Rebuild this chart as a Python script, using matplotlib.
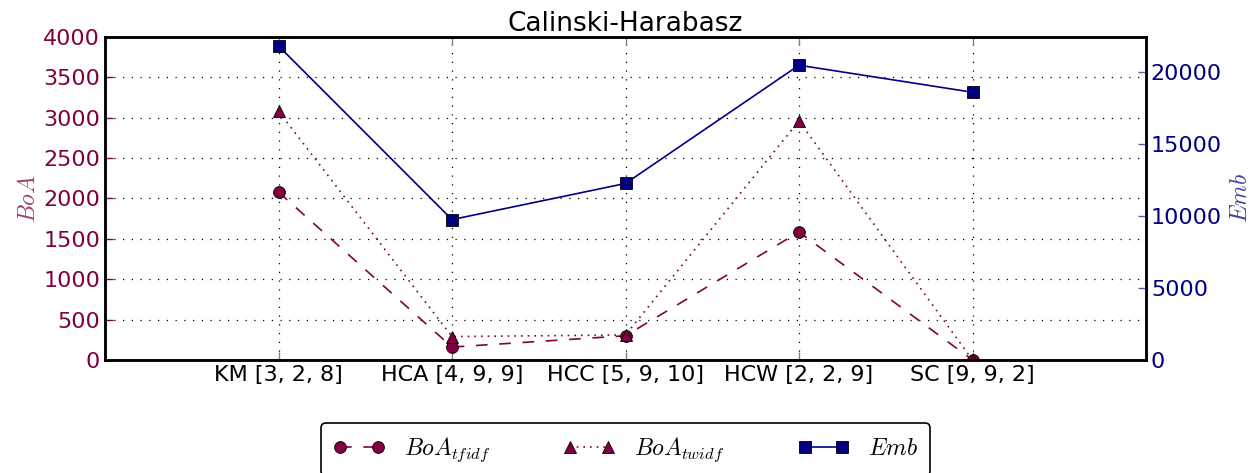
"""
Calinski-Harabasz comparison: BoA variants (left axis) against Emb (right axis).
"""
import numpy as np
import matplotlib
matplotlib.use('Agg')
import matplotlib.pyplot as plt

plt.rcParams['mathtext.fontset'] = 'cm'
plt.rcParams['font.family'] = ['DejaVu Sans']

methods = ['KM [3, 2, 8]', 'HCA [4, 9, 9]', 'HCC [5, 9, 10]', 'HCW [2, 2, 9]', 'SC [9, 9, 2]']
boa_tfidf = [2080, 160, 300, 1585, 0]
boa_twidf = [3080, 290, 310, 2960, 0]
emb = [21830, 9760, 12270, 20490, 18610]

BOA_COLOR = '#800040'
EMB_COLOR = '#000080'

fig = plt.figure(figsize=(12.6, 4.73), dpi=100)
ax = fig.add_axes([105 / 1260, 113 / 473, 1041 / 1260, 323 / 473])
ax2 = ax.twinx()

x = np.arange(1, len(methods) + 1)

l1, = ax.plot(x, boa_tfidf, color=BOA_COLOR, linestyle=(0, (7, 7)), linewidth=1.2,
              marker='o', markersize=8.5, markeredgecolor='black', markeredgewidth=0.6,
              label=r'$BoA_{tfidf}$')
l2, = ax.plot(x, boa_twidf, color=BOA_COLOR, linestyle=(0, (1, 3)), linewidth=1.2,
              marker='^', markersize=8.5, markeredgecolor='black', markeredgewidth=0.6,
              label=r'$BoA_{twidf}$')
l3, = ax2.plot(x, emb, color=EMB_COLOR, linestyle='-', linewidth=1.2,
               marker='s', markersize=8.5, markeredgecolor='black', markeredgewidth=0.6,
               label=r'$Emb$')

ax.set_xlim(0, 6)
ax.set_ylim(0, 4000)
ax2.set_ylim(0, 22450)
ax.set_xticks(x)
ax.set_xticklabels(methods, fontsize=16)
ax.set_yticks(np.arange(0, 4001, 500))
ax2.set_yticks(np.arange(0, 20001, 5000))

# sparse dotted grid like the old classic style
ax.grid(True, color='black', linestyle=(0, (1, 6)), linewidth=0.9)

ax.tick_params(axis='y', colors=BOA_COLOR, labelsize=16, direction='in', length=6, width=1)
ax.tick_params(axis='x', colors='grey', labelcolor='black', direction='in', length=6,
               top=True, width=1)
ax2.tick_params(axis='y', colors='#5a5aa8', labelcolor=EMB_COLOR, labelsize=16,
                direction='in', length=6, width=1)

for spine in ax.spines.values():
    spine.set_linewidth(1.8)
for spine in ax2.spines.values():
    spine.set_linewidth(1.8)

ax.set_ylabel(r'$BoA$', color=BOA_COLOR, alpha=0.75, fontsize=17, labelpad=2)
ax2.set_ylabel(r'$Emb$', color=EMB_COLOR, alpha=0.75, fontsize=17, labelpad=4)
ax.set_title('Calinski-Harabasz', fontsize=19, pad=4)

leg = ax.legend(handles=[l1, l2, l3], loc='upper center', bbox_to_anchor=(0.5, -0.16),
                ncol=3, fontsize=17, numpoints=2, handlelength=2.2, columnspacing=3.1,
                fancybox=True, framealpha=1.0, edgecolor='black', borderpad=0.5)
leg.get_frame().set_linewidth(1.2)

fig.savefig('out.png', dpi=100)
plt.close(fig)
